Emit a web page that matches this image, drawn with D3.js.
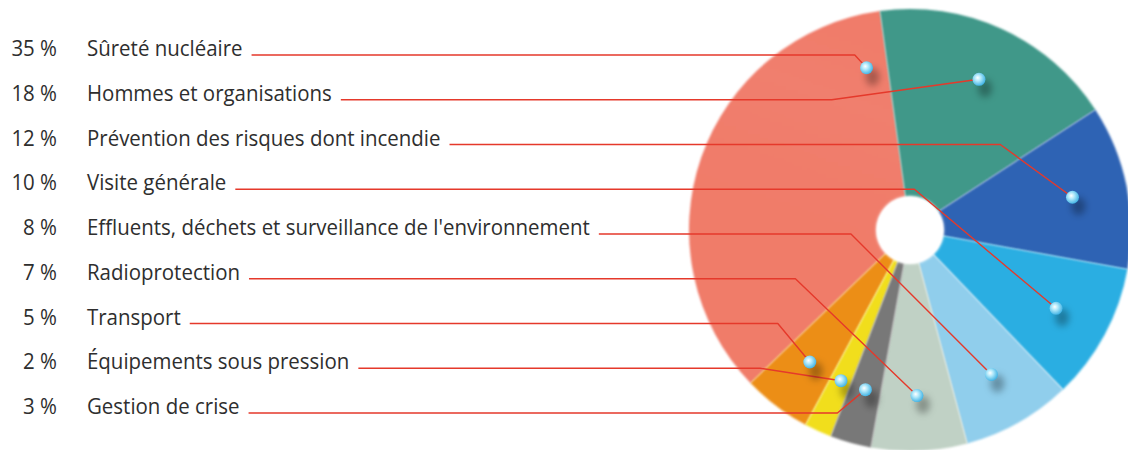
<!DOCTYPE html>
<html>
<head>
<meta charset="utf-8">
<script src="https://cdn.jsdelivr.net/npm/d3@7/dist/d3.min.js"></script>
<style>
  html, body { margin: 0; padding: 0; background: #ffffff; }
  svg { display: block; }
</style>
</head>
<body>
<svg id="chart" width="1128" height="450"></svg>
<script>
// ---------------- DATA ----------------
const labels = [
  "Sûreté nucléaire",
  "Hommes et organisations",
  "Prévention des risques dont incendie",
  "Visite générale",
  "Effluents, déchets et surveillance de l'environnement",
  "Radioprotection",
  "Transport",
  "Équipements sous pression",
  "Gestion de crise"
];
const values = [35, 18, 12, 10, 8, 7, 5, 2, 3];
const percentLabels = ["35 %", "18 %", "12 %", "10 %", "8 %", "7 %", "5 %", "2 %", "3 %"];
// clockwise order of slices around the pie, starting at the top
const sliceOrder = [
  "Hommes et organisations",
  "Prévention des risques dont incendie",
  "Visite générale",
  "Effluents, déchets et surveillance de l'environnement",
  "Radioprotection",
  "Gestion de crise",
  "Équipements sous pression",
  "Transport",
  "Sûreté nucléaire"
];
const colors = ["#F07B69", "#44A292", "#3169C0", "#2DB3E9", "#94D4F3", "#C6D7CB", "#F39216", "#F8E51E", "#7C7C7C"];

// ---------------- LAYOUT ----------------
const svg = d3.select("#chart");
const cx = 910, cy = 230, R = 221, r0 = 33;
const deg = Math.PI / 180;
const defs = svg.append("defs");

const data = labels.map((l, i) => ({ label: l, value: values[i], pct: percentLabels[i], color: colors[i], i }));

const pie = d3.pie()
  .value(d => d.value)
  .sort((a, b) => sliceOrder.indexOf(a.label) - sliceOrder.indexOf(b.label))
  .startAngle(-7.8 * deg)
  .endAngle(352.2 * deg);
const arcs = pie(data);

const arc = d3.arc().innerRadius(r0).outerRadius(R);

// blur filters
const fSoft = defs.append("filter").attr("id", "soft").attr("x", "-5%").attr("y", "-5%").attr("width", "110%").attr("height", "110%");
fSoft.append("feGaussianBlur").attr("stdDeviation", 0.9);
const fShadow = defs.append("filter").attr("id", "shadow").attr("x", "-100%").attr("y", "-100%").attr("width", "300%").attr("height", "300%");
fShadow.append("feGaussianBlur").attr("stdDeviation", 3.5);
const fHole = defs.append("filter").attr("id", "hole").attr("x", "-30%").attr("y", "-30%").attr("width", "160%").attr("height", "160%");
fHole.append("feGaussianBlur").attr("stdDeviation", 1.5);

function lighten(c, k) { return d3.interpolateRgb(c, "#ffffff")(k); }
function darken(c, k) { return d3.interpolateRgb(c, "#000000")(k); }

// per-slice gradient across the slice (edge -> middle -> edge)
const lightAmt = { "Hommes et organisations": 0.36, "Prévention des risques dont incendie": 0.16 };
arcs.forEach((a, j) => {
  const rr = R * 0.6;
  const a0 = a.startAngle, a1 = a.endAngle;
  const x1 = cx + rr * Math.sin(a0), y1 = cy - rr * Math.cos(a0);
  const x2 = cx + rr * Math.sin(a1), y2 = cy - rr * Math.cos(a1);
  const g = defs.append("linearGradient")
    .attr("id", "g" + j)
    .attr("gradientUnits", "userSpaceOnUse")
    .attr("x1", x1).attr("y1", y1).attr("x2", x2).attr("y2", y2);
  const c = a.data.color;
  const big = a.data.value >= 30;
  const k = lightAmt[a.data.label] !== undefined ? lightAmt[a.data.label] : 0.12;
  g.append("stop").attr("offset", "0%").attr("stop-color", big ? c : darken(c, 0.06));
  g.append("stop").attr("offset", "58%").attr("stop-color", big ? lighten(c, 0.03) : lighten(c, k));
  g.append("stop").attr("offset", "100%").attr("stop-color", big ? c : darken(c, 0.03));
});

const gPie = svg.append("g").attr("transform", `translate(${cx},${cy})`);
gPie.selectAll("path.slice")
  .data(arcs)
  .join("path")
  .attr("class", "slice")
  .attr("d", arc)
  .attr("fill", (d, j) => `url(#g${j})`)
  .attr("stroke", "none")
  .attr("filter", "url(#soft)");

// white hole
gPie.append("circle").attr("r", r0 + 1).attr("fill", "#ffffff").attr("filter", "url(#hole)");
gPie.append("circle").attr("r", r0 - 1).attr("fill", "#ffffff");

// ---------------- LABELS ----------------
const rowY = d3.scalePoint().domain(labels).range([55, 413]);
const fontFamily = "'Open Sans', 'Noto Sans', sans-serif";
const textColor = "#2e2e2e";
const fs = 22;

const gText = svg.append("g");
const probe = gText.append("text").attr("font-family", fontFamily).attr("font-size", fs).text(labels[4]);
const sx = 503 / probe.node().getComputedTextLength();
probe.remove();

gText.selectAll("text.pct")
  .data(data)
  .join("text")
  .attr("class", "pct")
  .attr("transform", d => `translate(57,${rowY(d.label) + 1}) scale(${sx},1)`)
  .attr("text-anchor", "end")
  .attr("font-family", fontFamily)
  .attr("font-size", fs)
  .attr("fill", textColor)
  .text(d => d.pct);

const lbl = gText.selectAll("text.lbl")
  .data(data)
  .join("text")
  .attr("class", "lbl")
  .attr("transform", d => `translate(87,${rowY(d.label) + 1}) scale(${sx},1)`)
  .attr("font-family", fontFamily)
  .attr("font-size", fs)
  .attr("fill", textColor)
  .text(d => d.label);

// ---------------- LEADERS & BEADS ----------------
const beadR = R * 0.75;
// horizontal run factor of the final leg of each leader (layout only)
const legRun = [0.92, 7.2, 1.37, 1.19, 1.0, 1.04, 0.83, 6.5, 1.2];

const beads = data.map(d => {
  const a = arcs.find(x => x.data.label === d.label);
  let ang = (a.startAngle + a.endAngle) / 2;
  let rr = beadR;
  if (d.value >= 30) { ang = a.endAngle - 7.2 * deg; rr = R * 0.76; }
  return { d, x: cx + rr * Math.sin(ang), y: cy - rr * Math.cos(ang) };
});

const gLines = svg.append("g");
lbl.each(function (d, k) {
  const tEnd = 87 + this.getComputedTextLength() * sx;
  const y = rowY(d.label);
  const b = beads[k];
  const bendX = b.x - Math.abs(b.y - y) * legRun[k];
  gLines.append("path")
    .attr("d", d3.line()([[tEnd + 9, y], [bendX, y], [b.x, b.y]]))
    .attr("fill", "none")
    .attr("stroke", "#E5392B")
    .attr("stroke-width", 1.4)
    .attr("stroke-linejoin", "round");
});

// bead gradient
const bg = defs.append("radialGradient").attr("id", "bead").attr("cx", "42%").attr("cy", "42%").attr("r", "60%").attr("fx", "40%").attr("fy", "38%");
bg.append("stop").attr("offset", "0%").attr("stop-color", "#ffffff");
bg.append("stop").attr("offset", "40%").attr("stop-color", "#b0e8fa");
bg.append("stop").attr("offset", "100%").attr("stop-color", "#3fb2e4");

const gBeads = svg.append("g");
gBeads.selectAll("ellipse.sh")
  .data(beads)
  .join("ellipse")
  .attr("class", "sh")
  .attr("cx", b => b.x + 6)
  .attr("cy", b => b.y + 9)
  .attr("rx", 7)
  .attr("ry", 9)
  .attr("fill", "rgba(0,0,0,0.3)")
  .attr("filter", "url(#shadow)");
gBeads.selectAll("circle.bead")
  .data(beads)
  .join("circle")
  .attr("class", "bead")
  .attr("cx", b => b.x)
  .attr("cy", b => b.y)
  .attr("r", 6.5)
  .attr("fill", "url(#bead)");
</script>
</body>
</html>
